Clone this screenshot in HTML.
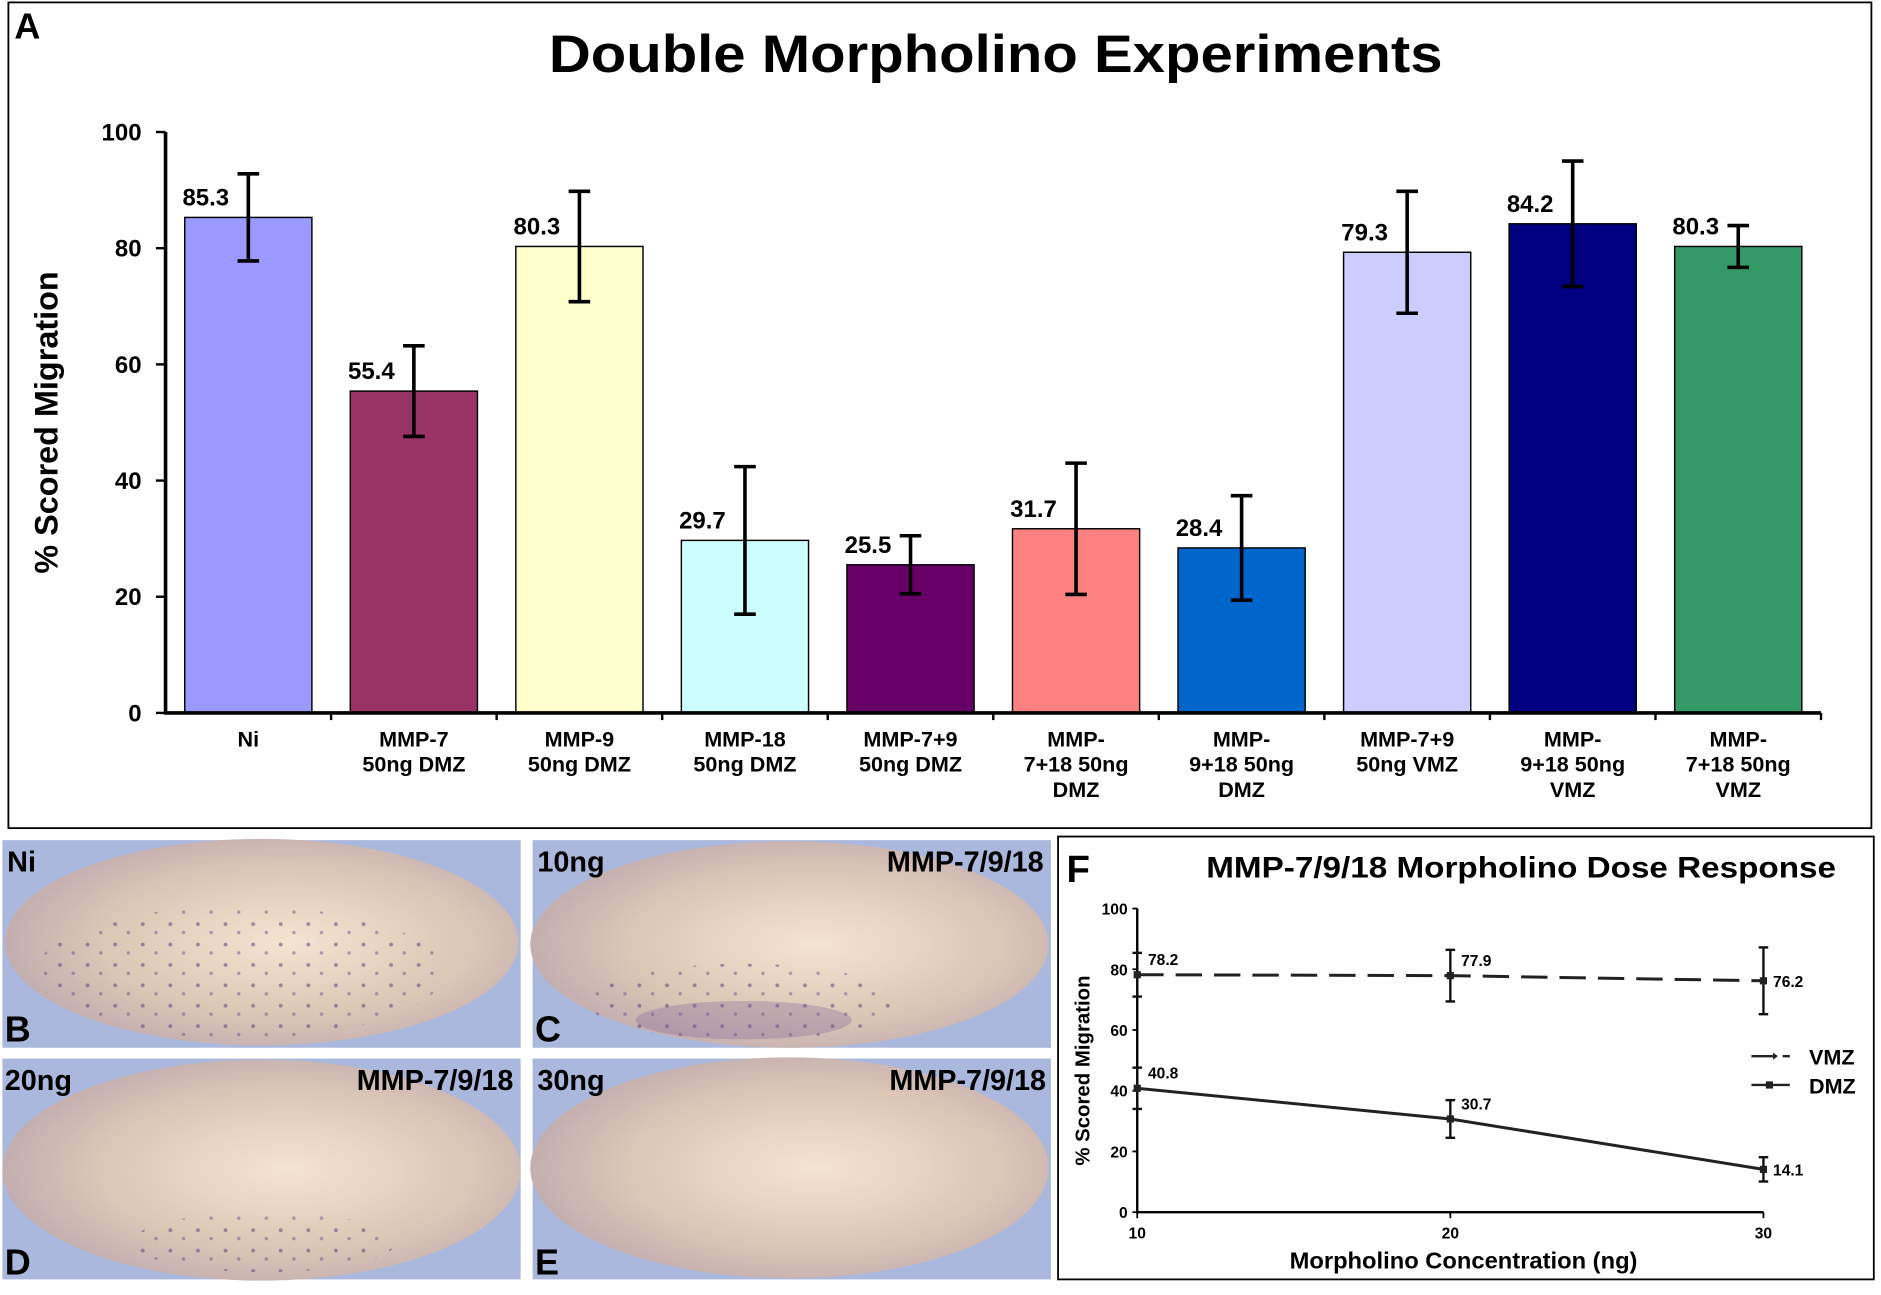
<!DOCTYPE html>
<html><head><meta charset="utf-8"><style>
html,body{margin:0;padding:0;background:#fff;}
svg{display:block;font-family:"Liberation Sans",sans-serif;}
</style></head><body>
<svg id="fig" width="1881" height="1295" viewBox="0 0 1568 1079" preserveAspectRatio="none" xmlns="http://www.w3.org/2000/svg">
<defs>
<radialGradient id="emb" cx="0.55" cy="0.5" r="0.6">
<stop offset="0" stop-color="#f4e4d2"/><stop offset="0.6" stop-color="#dcc6b6"/><stop offset="1" stop-color="#bca8ae"/>
</radialGradient>
<pattern id="dots" width="23" height="17" patternUnits="userSpaceOnUse">
<circle cx="4" cy="5" r="1.6" fill="#5a4080" opacity="0.55"/><circle cx="15" cy="12" r="1.4" fill="#5a4080" opacity="0.45"/>
</pattern>
</defs>
<rect x="7" y="2" width="1553" height="688" fill="#fff" stroke="#000" stroke-width="1.5"/>
<text x="12" y="32" font-size="30" font-weight="bold">A</text>
<text x="830" y="60" font-size="44" font-weight="bold" text-anchor="middle" textLength="745" lengthAdjust="spacingAndGlyphs">Double Morpholino Experiments</text>
<text transform="translate(48,352) rotate(-90)" font-size="27" font-weight="bold" text-anchor="middle">% Scored Migration</text>
<g id="barChart"></g>

<g>
<g><rect x="2" y="700" width="432" height="173" fill="#a9b8dc"/><ellipse cx="218" cy="785" rx="214" ry="86" fill="url(#emb)"/><ellipse cx="200" cy="810" rx="170" ry="55" fill="url(#dots)"/><text x="6" y="726" font-size="24" font-weight="bold">Ni</text><text x="4" y="868" font-size="30" font-weight="bold">B</text></g>
<g><rect x="444" y="700" width="432" height="173" fill="#a9b8dc"/><ellipse cx="658" cy="787" rx="216" ry="86" fill="url(#emb)"/><ellipse cx="620" cy="835" rx="130" ry="32" fill="url(#dots)"/><ellipse cx="620" cy="850" rx="90" ry="16" fill="#7a5e98" opacity="0.3"/><text x="448" y="726" font-size="24" font-weight="bold">10ng</text><text x="870" y="726" font-size="24" font-weight="bold" text-anchor="end">MMP-7/9/18</text><text x="446" y="868" font-size="30" font-weight="bold">C</text></g>
<g><rect x="2" y="882" width="432" height="184" fill="#a9b8dc"/><ellipse cx="218" cy="975" rx="216" ry="92" fill="url(#emb)"/><ellipse cx="220" cy="1035" rx="110" ry="25" fill="url(#dots)"/><text x="4" y="908" font-size="24" font-weight="bold">20ng</text><text x="428" y="908" font-size="24" font-weight="bold" text-anchor="end">MMP-7/9/18</text><text x="4" y="1062" font-size="30" font-weight="bold">D</text></g>
<g><rect x="444" y="882" width="432" height="184" fill="#a9b8dc"/><ellipse cx="658" cy="973" rx="216" ry="92" fill="url(#emb)"/><text x="448" y="908" font-size="24" font-weight="bold">30ng</text><text x="872" y="908" font-size="24" font-weight="bold" text-anchor="end">MMP-7/9/18</text><text x="446" y="1062" font-size="30" font-weight="bold">E</text></g>
</g>

<rect x="882" y="697" width="680" height="369" fill="#fff" stroke="#000" stroke-width="1.5"/>
<text x="889" y="735" font-size="32" font-weight="bold">F</text>
<text x="1268" y="731" font-size="25" font-weight="bold" text-anchor="middle" textLength="525" lengthAdjust="spacingAndGlyphs">MMP-7/9/18 Morpholino Dose Response</text>
<text transform="translate(908,892) rotate(-90)" font-size="17" font-weight="bold" text-anchor="middle">% Scored Migration</text>
<text x="1220" y="1057" font-size="19" font-weight="bold" text-anchor="middle" textLength="290" lengthAdjust="spacingAndGlyphs">Morpholino Concentration (ng)</text>
<g id="lineChart"></g>
<g>
<g><line x1="1460" y1="880" x2="1478" y2="880" stroke="#222" stroke-width="2"/><path d="M1478 877 L1482 880 L1478 883 Z" fill="#222"/><line x1="1486" y1="880" x2="1492" y2="880" stroke="#222" stroke-width="2"/><text x="1508" y="887" font-size="18" font-weight="bold">VMZ</text></g>
<g><line x1="1460" y1="904" x2="1492" y2="904" stroke="#222" stroke-width="2"/><rect x="1472" y="901" width="6" height="6" fill="#222"/><text x="1508" y="911" font-size="18" font-weight="bold">DMZ</text></g>
</g>
</svg>
<script>
const categories = [["Ni"],["MMP-7","50ng DMZ"],["MMP-9","50ng DMZ"],["MMP-18","50ng DMZ"],["MMP-7+9","50ng DMZ"],["MMP-","7+18 50ng","DMZ"],["MMP-","9+18 50ng","DMZ"],["MMP-7+9","50ng VMZ"],["MMP-","9+18 50ng","VMZ"],["MMP-","7+18 50ng","VMZ"]];
const barValues = [85.3,55.4,80.3,29.7,25.5,31.7,28.4,79.3,84.2,80.3];
const barErrors = [7.5,7.8,9.5,12.7,5,11.3,9,10.5,10.8,3.6];
const barColors = ["#9999ff","#993366","#ffffcc","#ccffff","#660066","#ff8080","#0066cc","#ccccff","#000080","#339966"];
const yTicks = [0,20,40,60,80,100];

const doses = [10,20,30];
const vmzValues = [78.2,77.9,76.2];
const vmzErrors = [7.2,8.5,11];
const dmzValues = [40.8,30.7,14.1];
const dmzErrors = [6.8,6.2,4];
const lineYTicks = [0,20,40,60,80,100];

const NS="http://www.w3.org/2000/svg";
function mk(tag,attrs,parent,text){const e=document.createElementNS(NS,tag);for(const k in attrs)e.setAttribute(k,attrs[k]);if(text!==undefined)e.textContent=text;parent.appendChild(e);return e;}

const bc=document.getElementById('barChart');
const X0=138,X1=1518,Y0=594,Y100=110;
const ys=v=>Y0+(Y100-Y0)*v/100;
const step=(X1-X0)/categories.length;
const xc=i=>X0+step*(i+0.5);
const bw=106;
categories.forEach((c,i)=>{
  const v=barValues[i],e=barErrors[i];
  const r=mk('rect',{x:xc(i)-bw/2,y:ys(v),width:bw,height:Y0-ys(v),fill:barColors[i],stroke:'#000','stroke-width':1.2},bc);
  
  
  const g=mk('g',{stroke:'#000','stroke-width':3},bc);
  
  
  mk('line',{x1:xc(i),x2:xc(i),y1:ys(v+e),y2:ys(v-e)},g);
  mk('line',{x1:xc(i)-9,x2:xc(i)+9,y1:ys(v+e),y2:ys(v+e)},g);
  mk('line',{x1:xc(i)-9,x2:xc(i)+9,y1:ys(v-e),y2:ys(v-e)},g);
  const t=mk('text',{x:xc(i)-16,y:ys(v)-10,'font-size':20,'font-weight':'bold','text-anchor':'end'},bc,v.toFixed(1));
  
  
  c.forEach((line,j)=>{
    const l=mk('text',{x:xc(i),y:622+j*21,'font-size':18,'font-weight':'bold','text-anchor':'middle'},bc,line);
    
    
  });
  mk('line',{x1:X0+step*(i+1),x2:X0+step*(i+1),y1:Y0,y2:Y0+6,stroke:'#000','stroke-width':2},bc);
});
const ax=mk('path',{d:`M${X0} ${Y100} V${Y0} H${X1}`,fill:'none',stroke:'#000','stroke-width':3},bc);


yTicks.forEach(t=>{
  mk('line',{x1:X0-8,x2:X0,y1:ys(t),y2:ys(t),stroke:'#000','stroke-width':2},bc);
  const l=mk('text',{x:118,y:ys(t)+7,'font-size':20,'font-weight':'bold','text-anchor':'end'},bc,t);
  
  
});

const lc=document.getElementById('lineChart');
const LX0=948,LX1=1470,LY0=1010,LY100=757;
const lx=d=>LX0+(LX1-LX0)*(d-10)/20;
const ly=v=>LY0+(LY100-LY0)*v/100;
const lax=mk('path',{d:`M${LX0} ${LY100} V${LY0} H${LX1}`,fill:'none',stroke:'#000','stroke-width':2},lc);


lineYTicks.forEach(t=>{
  mk('line',{x1:LX0-4,x2:LX0,y1:ly(t),y2:ly(t),stroke:'#000','stroke-width':1.5},lc);
  const l=mk('text',{x:LX0-8,y:ly(t)+5,'font-size':13,'font-weight':'bold','text-anchor':'end'},lc,t);
  
  
});
doses.forEach(d=>{
  mk('line',{x1:lx(d),x2:lx(d),y1:LY0,y2:LY0+5,stroke:'#000','stroke-width':1.5},lc);
  const l=mk('text',{x:lx(d),y:LY0+22,'font-size':13,'font-weight':'bold','text-anchor':'middle'},lc,d);
  
  
});
function series(vals,errs,dash,name){
  const p=mk('polyline',{points:vals.map((v,i)=>lx(doses[i])+','+ly(v)).join(' '),fill:'none',stroke:'#222','stroke-width':2.5,'stroke-dasharray':dash},lc);
  
  
  vals.forEach((v,i)=>{
    const x=lx(doses[i]),e=errs[i];
    const g=mk('g',{stroke:'#111','stroke-width':2},lc);
    
    
    mk('line',{x1:x,x2:x,y1:ly(v+e),y2:ly(v-e)},g);
    mk('line',{x1:x-4,x2:x+4,y1:ly(v+e),y2:ly(v+e)},g);
    mk('line',{x1:x-4,x2:x+4,y1:ly(v-e),y2:ly(v-e)},g);
    const m=mk('rect',{x:x-3,y:ly(v)-3,width:6,height:6,fill:'#222'},lc);
    
    
    const off=(i===2)?{dx:8,dy:5}:{dx:9,dy:-8};
    const t=mk('text',{x:x+off.dx,y:ly(v)+off.dy,'font-size':13,'font-weight':'bold'},lc,v.toFixed(1));
    
    
  });
}
series(vmzValues,vmzErrors,'22,10','vmz');
series(dmzValues,dmzErrors,'none','dmz');
</script>
</body></html>
